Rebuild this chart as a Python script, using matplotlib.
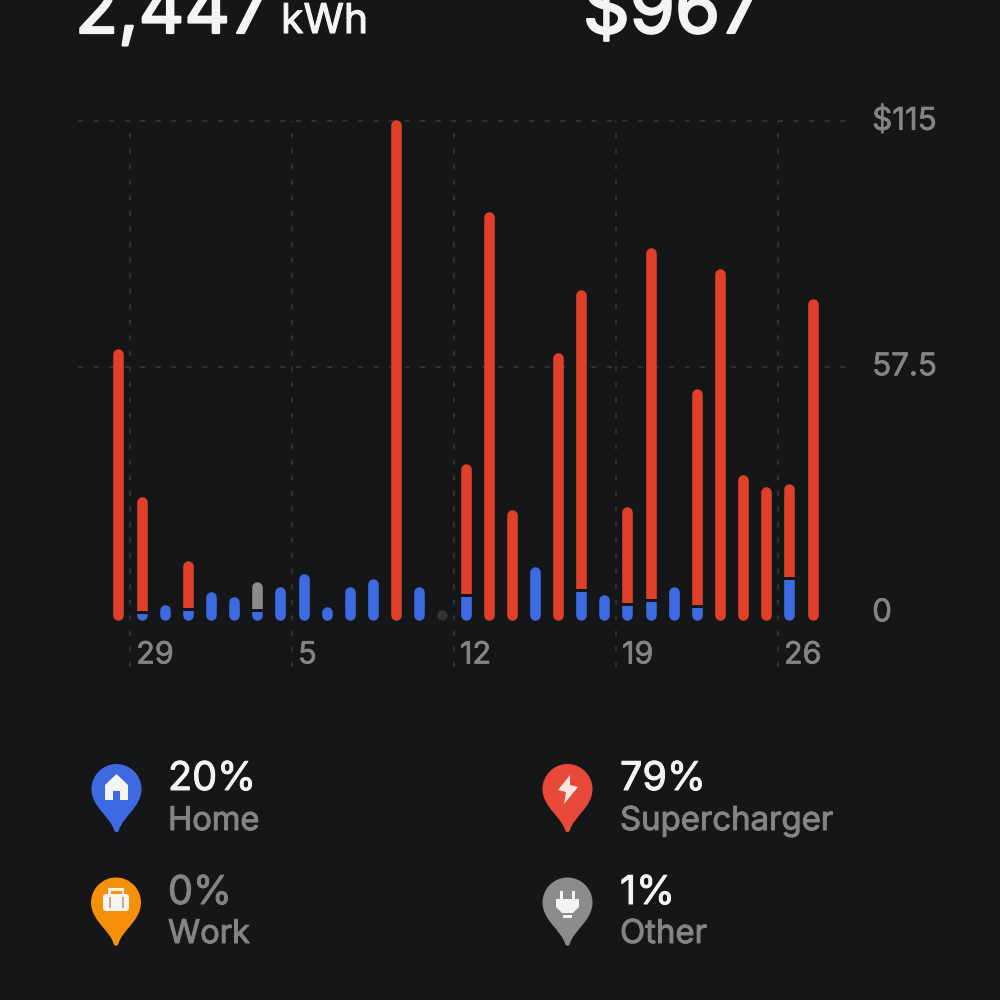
import matplotlib

matplotlib.use("Agg")

import matplotlib.pyplot as plt
import matplotlib.patheffects as pe
from matplotlib.patches import FancyBboxPatch, PathPatch, Polygon, Rectangle
from matplotlib.path import Path

# daily cost by charging location, first bar is the 28th
days = [28, 29, 30, 31, 1, 2, 3, 4, 5, 6, 7, 8, 9, 10, 11, 12, 13, 14, 15, 16, 17, 18, 19, 20, 21, 22, 23, 24, 25, 26, 27]
home = [0, 0.2, 1.2, 0.9, 4.2, 3.0, 0.7, 5.4, 8.4, 0.7, 5.4, 7.2, 0, 5.4, 0, 4.2, 0, 0, 10.0, 0, 5.4, 3.5, 2.1, 3.0, 5.4, 1.6, 0, 0, 0, 8.2, 0]
supercharger = [61.0, 26.2, 0, 10.6, 0, 0, 0, 0, 0, 0, 0, 0, 114.5, 0, 0, 29.9, 93.0, 23.4, 0, 60.1, 69.4, 0, 22.0, 81.6, 0, 50.1, 79.7, 31.6, 28.8, 21.3, 72.7]
other = [0, 0, 0, 0, 0, 0, 5.8, 0, 0, 0, 0, 0, 0, 0, 0, 0, 0, 0, 0, 0, 0, 0, 0, 0, 0, 0, 0, 0, 0, 0, 0]

y_ticks = [0, 57.5, 115]
y_labels = ["0", "57.5", "$115"]
x_tick_days = [29, 5, 12, 19, 26]

BG = "#151618"
RED = "#E0402A"
BLUE = "#3E6AE1"
ORANGE = "#F59008"
GRAY = "#8C8C8C"
PIN_RED = "#E8493A"
TEXT_GRAY = "#838486"
GRID = "#303133"
WHITE = "#F4F4F5"
FONT = "Inter"

BAR_BASE = -0.5
GAP = 0.7

plt.rcParams["font.family"] = FONT

fig = plt.figure(figsize=(10, 10), dpi=100, facecolor=BG)


def bold(color, width=0.7):
    # the installed face renders light, a thin stroke brings it to the reference weight
    return [pe.withStroke(linewidth=width, foreground=color)]


def px_text(x, y, s, size, color, width=0.7):
    fig.text(x / 1000, 1 - y / 1000, s, fontsize=size, color=color, va="baseline", ha="left",
             path_effects=bold(color, width))


# chart area, 0 sits at y=613 px and 115 at y=121 px
ax = fig.add_axes([0.078, 1 - 0.667, 0.772, 0.667 - 0.118])
ax.set_facecolor(BG)
ax.set_xlim(-1.75, 31.62)
ax.set_ylim(-12.62, 115.7)
ax.axis("off")

dash = (0, (2.6, 5.4))
for v in y_ticks[1:]:
    ax.axhline(v, color=GRID, lw=1.4, ls=dash, zorder=1)
for d in x_tick_days:
    i = days.index(d)
    ax.plot([i - 0.5, i - 0.5], [-12.62, 115], color=GRID, lw=1.4, ls=dash, zorder=1)
    ax.annotate(str(d), (i - 0.5, 0), xycoords="data", xytext=(4.4, -30.6), textcoords="offset points",
                fontsize=22, color=TEXT_GRAY, va="center", ha="left", path_effects=bold(TEXT_GRAY, 0.5))

for v, lab in zip(y_ticks, y_labels):
    ax.annotate(lab, (1, v), xycoords=("axes fraction", "data"), xytext=(16, -0.2), textcoords="offset points",
                fontsize=22.5, color=TEXT_GRAY, va="center", ha="left", annotation_clip=False,
                path_effects=bold(TEXT_GRAY, 0.5))

# one rounded pill per day, cut into its coloured segments with clip rectangles
for i in range(len(days)):
    total = home[i] + supercharger[i] + other[i]
    if total == 0:
        ax.plot([i], [BAR_BASE], "o", ms=7.4, color="#333436", mew=0, zorder=3)
        continue
    top = BAR_BASE + total
    lower = -13
    start = BAR_BASE
    for value, color in [(home[i], BLUE), (supercharger[i], RED), (other[i], GRAY)]:
        if value == 0:
            continue
        start += value
        upper = start if start < top - 0.01 else 120
        line, = ax.plot([i, i], [BAR_BASE, top], color=color, lw=7.6, solid_capstyle="round", zorder=3)
        line.set_clip_path(Rectangle((i - 1, lower), 2, upper - lower, transform=ax.transData))
        lower = upper + GAP

# header, cut off by the top edge
px_text(75, 33, "2,447", 51, WHITE, 1.6)
px_text(281, 33, "kWh", 29.5, WHITE, 0.8)
px_text(583, 33, "$967", 52.5, WHITE, 1.6)

# overlay in pixel coordinates for the legend pins
ov = fig.add_axes([0, 0, 1, 1], facecolor="none")
ov.set_xlim(0, 1000)
ov.set_ylim(1000, 0)
ov.axis("off")


def pin(cx, cy, color):
    r = 25
    k = 0.552 * r
    verts = [
        (cx - 2.5, cy + 41),
        (cx - 6, cy + 28), (cx - r, cy + 18), (cx - r, cy),
        (cx - r, cy - k), (cx - k, cy - r), (cx, cy - r),
        (cx + k, cy - r), (cx + r, cy - k), (cx + r, cy),
        (cx + r, cy + 18), (cx + 6, cy + 28), (cx + 2.5, cy + 41),
        (cx + 1.5, cy + 44), (cx - 1.5, cy + 44), (cx - 2.5, cy + 41),
    ]
    codes = [Path.MOVETO] + [Path.CURVE4] * 15
    ov.add_patch(PathPatch(Path(verts, codes), fc=color, ec="none"))


def shape(points, color=WHITE):
    ov.add_patch(Polygon(points, closed=True, fc=color, ec="none"))


pin(116.5, 789, BLUE)
pin(116, 902.5, ORANGE)
pin(567.5, 789, PIN_RED)
pin(567.5, 902.5, GRAY)

# house
shape([(116.5, 774), (128, 785), (128, 800), (120, 800), (120, 791), (113, 791), (113, 800), (105, 800), (105, 785)])

# briefcase
ov.add_patch(FancyBboxPatch((103, 894), 26, 17, boxstyle="round,pad=0,rounding_size=3", fc=WHITE, ec="none"))
shape([(108, 894), (108, 888), (124, 888), (124, 894), (121.5, 894), (121.5, 890.5), (110.5, 890.5), (110.5, 894)])
shape([(108.5, 897), (110.5, 897), (110.5, 908), (108.5, 908)], color="#D9A878")
shape([(122, 897), (124, 897), (124, 908), (122, 908)], color="#D9A878")

# bolt
shape([(570, 775), (558, 790), (566, 792), (564, 804), (578, 787), (570, 785)], color="#FBE6E2")

# plug
shape([(560, 891), (563, 891), (563, 900), (560, 900)])
shape([(572, 891), (575, 891), (575, 900), (572, 900)])
shape([(556, 899), (579, 899), (579, 907), (573, 913), (562, 913), (556, 907)])
shape([(563, 915), (572, 915), (572, 918), (563, 918)])

px_text(168, 790, "20%", 28.5, WHITE)
px_text(168, 830, "Home", 23.5, TEXT_GRAY)
px_text(620, 790, "79%", 28.5, WHITE)
px_text(620, 830, "Supercharger", 23.7, TEXT_GRAY)
px_text(168, 904, "0%", 28.5, TEXT_GRAY)
px_text(168, 943, "Work", 23.5, TEXT_GRAY)
px_text(620, 904, "1%", 28.5, WHITE)
px_text(620, 943, "Other", 23.7, TEXT_GRAY)

fig.savefig("out.png", dpi=100, facecolor=BG)
